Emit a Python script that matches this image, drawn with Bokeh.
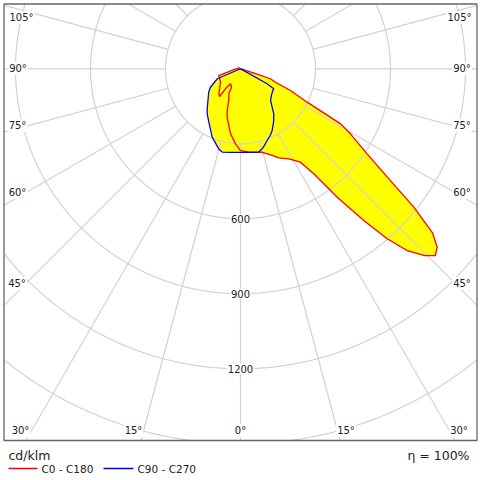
import numpy as np
from bokeh.plotting import figure
from bokeh.models import Range1d, Label
from bokeh.embed import file_html
from bokeh.resources import INLINE

# ---------------- data (cd/klm vs gamma, degrees from nadir) ----------------
gamma_c0 = [0, 5.7, 14.6, 20.1, 23.3, 28.2, 32.7, 34.9, 37, 39.1, 40.8, 42.5, 44.5,
            46.2, 47.8, 49.5, 51.4, 53.3, 56.1, 59.4, 61.2, 63.4, 66.5, 69, 71.6,
            72.5, 73.4, 90, 180]
I_c0 = [327, 335, 345, 369, 388, 409, 444, 512, 643, 782, 898, 986, 1047,
        1080, 1062, 1010, 887, 748, 610, 511, 457, 298, 218, 150, 126,
        63, 28, 3, 0]

gamma_c180 = [0, 3.8, 8.7, 15.4, 17.7, 20.3, 25, 26, 33.7, 36.9, 37.2, 41, 56.2,
              72.8, 76.3, 82.3, 90, 120, 180]
I_c180 = [327, 301, 263, 201, 175, 135, 110, 82, 72, 100, 139, 132, 96,
          91, 48, 27, 16, 8, 0]

gamma_c90 = [0, 6, 12.4, 16, 20.4, 24, 27.2, 32, 36.5, 43.4, 50, 55, 59, 60.7, 61.5, 90, 180]
I_c90 = [334, 336, 341, 328, 306, 292, 277, 250, 224, 175, 162, 157, 155, 122, 5, 0, 0]

gamma_c270 = [0, 6, 12.4, 15.2, 22.5, 30.7, 36.5, 39.8, 53.6, 58.5, 66.8, 68, 90, 180]
I_c270 = [334, 336, 341, 332, 296, 248, 224, 208, 158, 141, 101, 5, 0, 0]

ring_values = [300, 600, 900, 1200, 1500]
ring_labels = ["600", "900", "1200"]
angle_labels = ["105°", "90°", "75°", "60°", "45°", "30°", "15°", "0°"]
unit_text = "cd/klm"
eff_text = "η = 100%"
series_names = ["C0 - C180", "C90 - C270"]

# ---------------- geometry helpers ----------------
U = 4.0                 # data units per pixel
CX, CY = 240.0, 68.3    # polar centre in page pixels


def X(px):
    return (px - CX) * U


def Y(py):
    return (CY - py) * U


XMIN, XMAX = X(3.5), X(476.5)
YTOP, YBOT = Y(3.5), Y(440.0)


def half(gam, inten, side):
    g = np.radians(np.asarray(gam, float))
    r = np.asarray(inten, float)
    return side * r * np.sin(g), -r * np.cos(g)


def polygon(g_right, i_right, g_left, i_left):
    xr, yr = half(g_right, i_right, 1)
    xl, yl = half(g_left, i_left, -1)
    xs = np.concatenate([xl[::-1], xr])
    ys = np.concatenate([yl[::-1], yr])
    return xs, ys


red_x, red_y = polygon(gamma_c0, I_c0, gamma_c180, I_c180)
blue_x, blue_y = polygon(gamma_c90, I_c90, gamma_c270, I_c270)

p = figure(width=480, height=480, output_backend="svg", toolbar_location=None,
           x_range=Range1d(X(0), X(480)), y_range=Range1d(Y(480), Y(0)),
           min_border=0)
p.axis.visible = False
p.grid.visible = False
p.outline_line_color = None
p.background_fill_color = "white"
p.border_fill_color = "white"

# yellow fill
p.patch(red_x, red_y, fill_color="#ffff00", line_color=None)
p.patch(blue_x, blue_y, fill_color="#ffff00", line_color=None)

GRID = "#d2d2d2"
# rings, clipped to frame
th = np.linspace(0, 2 * np.pi, 3601)
for R in ring_values:
    cx = R * np.cos(th)
    cy = R * np.sin(th)
    inside = (cx >= XMIN) & (cx <= XMAX) & (cy <= YTOP) & (cy >= YBOT)
    cx = np.where(inside, cx, np.nan)
    cy = np.where(inside, cy, np.nan)
    p.line(cx, cy, line_color=GRID, line_width=1.2)

# radial lines every 15 deg, starting at the 300 ring
for a in range(0, 360, 15):
    ux, uy = np.sin(np.radians(a)), -np.cos(np.radians(a))
    ts = []
    if ux > 1e-9:
        ts.append(XMAX / ux)
    if ux < -1e-9:
        ts.append(XMIN / ux)
    if uy > 1e-9:
        ts.append(YTOP / uy)
    if uy < -1e-9:
        ts.append(YBOT / uy)
    t = min(ts)
    if t <= ring_values[0]:
        continue
    p.line([ring_values[0] * ux, t * ux], [ring_values[0] * uy, t * uy],
           line_color=GRID, line_width=1.2)

# frame
p.quad(left=XMIN, right=XMAX, top=YTOP, bottom=YBOT, fill_color=None,
       line_color="#666666", line_width=1.3)

# curves
p.line(red_x, red_y, line_color="#ff0000", line_width=1.3)
p.line(blue_x, blue_y, line_color="#0000ff", line_width=1.3)

FONT = "DejaVu Sans"


def lab(txt, px, py, size="10px", align="center", bg=True):
    kw = dict(x=X(px), y=Y(py), text=txt, text_font=FONT, text_font_size=size,
              text_color="#222222", text_align=align, text_baseline="middle")
    if bg:
        kw.update(background_fill_color="white", background_fill_alpha=1.0, padding=1)
    p.add_layout(Label(**kw))


# ring value labels on the nadir line
for txt, R in zip(ring_labels, ring_values[1:4]):
    lab(txt, CX, CY + R / U)

# angle labels: (left x, right x, y)
pos = [(21, 459, 17), (17.5, 461.5, 68), (17, 461.5, 125), (17, 461.5, 192),
       (16.5, 461.5, 283), (20, 458.5, 430), (133, 345.5, 430)]
for txt, (xl, xr, yy) in zip(angle_labels[:-1], pos):
    lab(txt, xl, yy)
    lab(txt, xr, yy)
lab(angle_labels[-1], CX, 430)

# footer
lab(unit_text, 8, 455, size="12.5px", align="left", bg=False)
lab(eff_text, 469, 455, size="12.5px", align="right", bg=False)
p.line([X(8), X(37)], [Y(468), Y(468)], line_color="#ff0000", line_width=1.3)
lab(series_names[0], 41, 468, size="10.5px", align="left", bg=False)
p.line([X(103), X(133)], [Y(468), Y(468)], line_color="#0000ff", line_width=1.3)
lab(series_names[1], 137, 468, size="10.5px", align="left", bg=False)

open("out.html", "w").write(file_html(p, INLINE))
